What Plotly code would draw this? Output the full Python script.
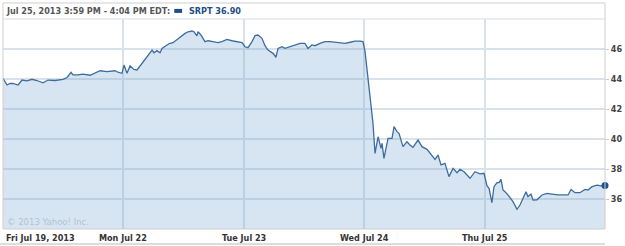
import plotly.graph_objects as go

# Time in trading-day units (0 = Fri Jul 19 open, 1 = Mon Jul 22 open, ...)
fri_t = [0.000, 0.033, 0.058, 0.083, 0.125, 0.158, 0.199, 0.241, 0.282, 0.332, 0.374, 0.432, 0.498,
         0.532, 0.565, 0.581, 0.623, 0.664, 0.723, 0.764, 0.806, 0.864, 0.905, 0.930, 0.955, 0.988]
fri_v = [44.05, 43.60, 43.71, 43.70, 43.60, 43.93, 43.87, 43.98, 43.90, 43.75, 43.93, 43.90, 43.98,
         44.10, 44.45, 44.27, 44.27, 44.33, 44.25, 44.40, 44.55, 44.49, 44.50, 44.55, 44.45, 44.38]

mon_t = [1.005, 1.030, 1.055, 1.088, 1.113, 1.154, 1.179, 1.204, 1.238, 1.254, 1.279, 1.304, 1.321,
         1.362, 1.387, 1.412, 1.445, 1.487, 1.512, 1.537, 1.570, 1.586, 1.611, 1.620, 1.645, 1.678,
         1.703, 1.744, 1.786, 1.819, 1.860, 1.902, 1.944, 1.985]
mon_v = [44.93, 44.38, 44.87, 44.64, 44.60, 45.04, 45.31, 45.53, 45.93, 45.75, 45.89, 45.75, 46.04,
         46.27, 46.38, 46.42, 46.64, 46.93, 47.04, 47.15, 47.20, 47.15, 46.87, 47.15, 46.93, 46.49,
         46.55, 46.49, 46.42, 46.49, 46.64, 46.55, 46.49, 46.42]

tue_t = [2.010, 2.035, 2.068, 2.093, 2.118, 2.151, 2.176, 2.201, 2.243, 2.267, 2.284, 2.317, 2.342,
         2.384, 2.425, 2.467, 2.508, 2.533, 2.566, 2.591, 2.633, 2.674, 2.716, 2.757, 2.799, 2.841,
         2.882, 2.924, 2.965, 2.990]
tue_v = [46.15, 46.09, 46.49, 46.89, 46.93, 46.71, 46.22, 45.93, 45.71, 45.45, 46.04, 46.15, 46.04,
         46.15, 46.31, 46.38, 46.38, 46.04, 46.27, 46.22, 46.38, 46.49, 46.49, 46.45, 46.38, 46.38,
         46.45, 46.53, 46.53, 46.49]

wed_t = [3.007, 3.023, 3.040, 3.065, 3.073, 3.090, 3.115, 3.140, 3.148, 3.164, 3.198, 3.231, 3.248,
         3.272, 3.289, 3.322, 3.355, 3.380, 3.405, 3.447, 3.480, 3.522, 3.563, 3.588, 3.613, 3.638,
         3.671, 3.704, 3.738, 3.771, 3.796, 3.829, 3.879, 3.920, 3.962, 3.995]
wed_v = [45.82, 44.60, 43.27, 41.38, 41.04, 39.04, 40.15, 39.38, 39.71, 38.71, 40.04, 40.04, 40.82,
         40.49, 40.38, 39.49, 39.82, 39.60, 39.45, 39.93, 39.49, 39.31, 38.93, 38.64, 38.93, 38.27,
         38.38, 37.49, 38.04, 37.75, 37.98, 37.82, 37.38, 37.82, 37.67, 37.71]

thu_t = [4.020, 4.037, 4.061, 4.078, 4.103, 4.120, 4.136, 4.153, 4.169, 4.194, 4.236, 4.269, 4.294,
         4.319, 4.344, 4.360, 4.385, 4.402, 4.435, 4.477, 4.518, 4.560, 4.610, 4.668, 4.693, 4.718,
         4.751, 4.792, 4.834, 4.859, 4.892, 4.934, 4.967, 5.000]
thu_v = [36.87, 36.71, 35.75, 36.82, 37.09, 37.09, 37.31, 36.60, 36.49, 36.27, 35.82, 35.31, 35.60,
         36.04, 36.49, 36.16, 36.33, 35.93, 35.95, 36.27, 36.38, 36.33, 36.27, 36.27, 36.27, 36.64,
         36.42, 36.42, 36.64, 36.60, 36.82, 36.93, 36.87, 36.90]

day_pos = [0, 1, 2, 3, 4]
day_labels = ["Fri Jul 19, 2013", "Mon Jul 22", "Tue Jul 23", "Wed Jul 24", "Thu Jul 25"]
y_ticks = [36, 38, 40, 42, 44, 46]
header_text = "Jul 25, 2013 3:59 PM - 4:04 PM EDT:"
legend_text = "SRPT 36.90"
copyright_text = "© 2013 Yahoo! Inc."

t = fri_t + mon_t + tue_t + wed_t + thu_t
v = fri_v + mon_v + tue_v + wed_v + thu_v

LINE = "#3d6d9e"
FONT = "DejaVu Sans Condensed"

fig = go.Figure()
fig.add_trace(go.Scatter(
    x=t, y=v, mode="lines", fill="tozeroy",
    fillcolor="rgba(120,170,210,0.30)",
    line=dict(color=LINE, width=1.3),
    hoverinfo="skip", showlegend=False,
))
fig.add_trace(go.Scatter(
    x=[t[-1]], y=[v[-1]], mode="markers",
    marker=dict(color="#1f5188", size=7, line=dict(width=0)),
    cliponaxis=False, hoverinfo="skip", showlegend=False,
))

annotations = []
for p, lab in zip(day_pos, day_labels):
    annotations.append(dict(
        x=p, xref="x", y=-0.043, yref="paper", text=lab, showarrow=False,
        xanchor="left" if p == 0 else "center", yanchor="middle",
        xshift=1 if p == 0 else 0,
        font=dict(family=FONT, size=9, color="#333333", weight="bold"),
    ))
annotations.append(dict(
    x=0, xref="paper", y=1.038, yref="paper", text=header_text, showarrow=False,
    xanchor="left", yanchor="middle", xshift=1,
    font=dict(family=FONT, size=9, color="#555555", weight="bold"),
))
annotations.append(dict(
    x=0.3056, xref="paper", y=1.038, yref="paper", text=legend_text, showarrow=False,
    xanchor="left", yanchor="middle",
    font=dict(family=FONT, size=9, color="#1f4e86", weight="bold"),
))
annotations.append(dict(
    x=0, xref="paper", y=0.035, yref="paper", text=copyright_text, showarrow=False,
    xanchor="left", yanchor="middle", xshift=2,
    font=dict(family="DejaVu Sans", size=8.5, color="#b3c3d1"),
))

shapes = [
    dict(type="rect", xref="paper", yref="paper", x0=0, x1=1, y0=0, y1=1.0762,
         line=dict(color="#cfcfcf", width=1)),
    dict(type="line", xref="paper", yref="paper", x0=0, x1=1, y0=1, y1=1,
         line=dict(color="#d5dde5", width=1)),
    dict(type="line", xref="paper", yref="paper", x0=-0.005, x1=1.0, y0=-0.0714, y1=-0.0714,
         line=dict(color="#dddddd", width=2)),
    dict(type="rect", xref="paper", yref="paper", x0=0.2845, x1=0.2975, y0=1.029, y1=1.048,
         fillcolor="#1f4e86", line=dict(width=0)),
]

fig.update_layout(
    width=625, height=246,
    margin=dict(l=3, r=20, t=19, b=17),
    paper_bgcolor="white", plot_bgcolor="white",
    showlegend=False,
    annotations=annotations, shapes=shapes,
    xaxis=dict(range=[0, 5], tickvals=[1, 2, 3, 4], showticklabels=False,
               showgrid=True, gridcolor="#d9e2eb", gridwidth=1.5, zeroline=False,
               showline=False, fixedrange=True),
    yaxis=dict(range=[34, 48], side="right", tickvals=y_ticks,
               showgrid=True, gridcolor="#d9e2eb", gridwidth=1.5, zeroline=False,
               ticks="outside", ticklen=3, tickcolor="#cccccc",
               tickfont=dict(family=FONT, size=9, color="#444444", weight="bold"),
               showline=False, fixedrange=True),
)

fig.write_html("out.html")
